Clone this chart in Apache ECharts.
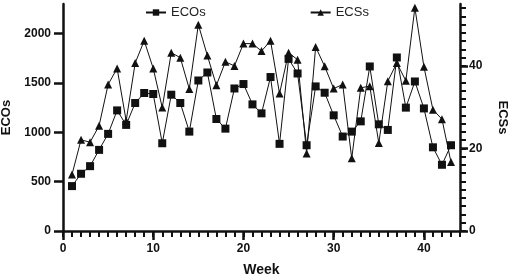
<!DOCTYPE html>
<html>
<head>
<meta charset="utf-8">
<script src="https://cdn.jsdelivr.net/npm/echarts@6/dist/echarts.min.js"></script>
<style>
  html, body { margin: 0; padding: 0; background: #fff; }
  #chart { width: 512px; height: 277px; }
</style>
</head>
<body>
<div id="chart"></div>
<script>
  // weeks 1..43
  var weeks = [];
  for (var i = 1; i <= 43; i++) weeks.push(i);

  var ecos = [455, 580, 657, 822, 984, 1222, 1075, 1297, 1398, 1388,
              889, 1381, 1297, 1007, 1525, 1606, 1135, 1037, 1444, 1489,
              1283, 1192, 1560, 883, 1744, 1596, 869, 1465, 1401, 1172,
              957, 1007, 1111, 1667, 1081, 1024, 1758, 1250, 1515, 1242,
              848, 671, 869];

  var ecss = [13.7, 22.1, 21.5, 25.5, 35.5, 39.4, 26.7, 40.7, 46.1, 39.4,
              29.9, 43.2, 42.0, 34.4, 50.0, 42.5, 35.3, 41.0, 40.0, 45.4,
              45.4, 43.6, 46.1, 33.3, 43.2, 41.5, 18.8, 44.6, 39.9, 34.5,
              35.5, 17.6, 34.7, 35.1, 21.3, 36.3, 40.7, 36.4, 54.1, 39.8,
              29.4, 27.1, 16.7];

  var weekLabels = [0, 10, 20, 30, 40];
  var weekMinor = [];
  for (var w = 0; w <= 44; w++) weekMinor.push(w);
  var ecosLabels = [0, 500, 1000, 1500, 2000];
  var ecssLabels = [0, 20, 40];
  var ecssMinor = [];
  for (var s = 0; s <= 54; s += 2) ecssMinor.push(s);

  var font = 'Liberation Sans, Arial, sans-serif';
  var black = '#111';
  var plain = function (v) { return String(v); };

  var myChart = echarts.init(document.getElementById('chart'));
  var option = {
    animation: false,
    textStyle: { fontFamily: font },
    legend: {
      top: 1,
      left: 140,
      itemGap: 104,
      itemWidth: 20,
      itemHeight: 8,
      textStyle: { fontSize: 13, color: '#222', fontFamily: font },
      data: ['ECOs', 'ECSs']
    },
    grid: { left: 63, right: 52, top: 4, bottom: 46, containLabel: false, outerBoundsMode: 'none' },
    xAxis: [
      {
        type: 'value', min: 0, max: 44, position: 'bottom',
        name: 'Week', nameLocation: 'middle', nameGap: 32,
        nameTextStyle: { fontSize: 14, fontWeight: 'bold', color: black },
        axisLine: { onZero: false, lineStyle: { color: black, width: 2.5 } },
        axisTick: { inside: false, customValues: weekLabels, length: 9, lineStyle: { color: black, width: 2.5 } },
        axisLabel: { customValues: weekLabels, formatter: plain, fontSize: 12, fontWeight: 'bold', color: black, margin: 12 },
        splitLine: { show: false }
      },
      {
        type: 'value', min: 0, max: 44, position: 'bottom',
        axisLine: { show: false, onZero: false },
        axisTick: { inside: false, customValues: weekMinor, length: 6, lineStyle: { color: black, width: 2 } },
        axisLabel: { show: false },
        splitLine: { show: false }
      }
    ],
    yAxis: [
      {
        type: 'value', min: 0, max: 2300, position: 'left',
        name: 'ECOs', nameLocation: 'middle', nameGap: 49,
        nameTextStyle: { fontSize: 13, fontWeight: 'bold', color: black },
        axisLine: { show: true, onZero: false, lineStyle: { color: black, width: 2.5 } },
        axisTick: { show: true, inside: false, customValues: ecosLabels, length: 9, lineStyle: { color: black, width: 2.5 } },
        axisLabel: { customValues: ecosLabels, formatter: plain, fontSize: 12, fontWeight: 'bold', color: black, margin: 12 },
        splitLine: { show: false }
      },
      {
        type: 'value', min: 0, max: 55, position: 'right',
        name: 'ECSs', nameLocation: 'middle', nameGap: 36, nameRotate: -90,
        nameTextStyle: { fontSize: 13, fontWeight: 'bold', color: black },
        axisLine: { show: true, onZero: false, lineStyle: { color: black, width: 2.5 } },
        axisTick: { show: true, inside: false, customValues: ecssLabels, length: 8, lineStyle: { color: black, width: 2.5 } },
        axisLabel: { customValues: ecssLabels, formatter: plain, fontSize: 12, fontWeight: 'bold', color: black, margin: 9 },
        splitLine: { show: false }
      },
      {
        type: 'value', min: 0, max: 55, position: 'right',
        axisLine: { show: false, onZero: false },
        axisTick: { show: true, inside: false, customValues: ecssMinor, length: 6, lineStyle: { color: black, width: 2 } },
        axisLabel: { show: false },
        splitLine: { show: false }
      }
    ],
    series: [
      {
        name: 'ECOs', type: 'line', xAxisIndex: 0, yAxisIndex: 0,
        data: weeks.map(function (wk, i) { return [wk, ecos[i]]; }),
        symbol: 'rect', symbolSize: 8,
        lineStyle: { color: black, width: 1 },
        itemStyle: { color: black }
      },
      {
        name: 'ECSs', type: 'line', xAxisIndex: 0, yAxisIndex: 1,
        data: weeks.map(function (wk, i) { return [wk, ecss[i]]; }),
        symbol: 'triangle', symbolSize: 8,
        lineStyle: { color: black, width: 1 },
        itemStyle: { color: black }
      }
    ]
  };
  myChart.setOption(option);
</script>
</body>
</html>
